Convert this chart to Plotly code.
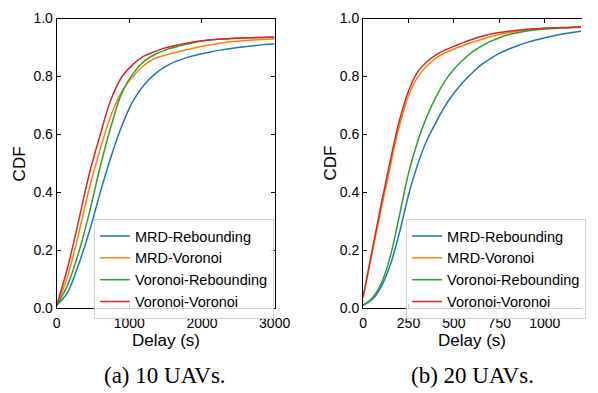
import plotly.graph_objects as go

# ---------------- data ----------------
series_names = ["MRD-Rebounding", "MRD-Voronoi", "Voronoi-Rebounding", "Voronoi-Voronoi"]
series_colors = ["#1f77b4", "#ff7f0e", "#2ca02c", "#d62728"]

# (a) 10 UAVs
delay_10 = [0, 150, 300, 450, 600, 750, 900, 1050, 1200, 1350, 1500, 1650, 1800, 1950, 2100, 2250, 2400, 2550, 2700, 2850, 3000]
cdf10_mrd_rebounding = [0.01, 0.055, 0.15, 0.265, 0.40, 0.525, 0.632, 0.715, 0.77, 0.808, 0.835, 0.853, 0.866, 0.876, 0.884, 0.891, 0.897, 0.902, 0.906, 0.91, 0.913]
cdf10_mrd_voronoi = [0.01, 0.11, 0.255, 0.415, 0.55, 0.667, 0.75, 0.80, 0.838, 0.862, 0.874, 0.884, 0.893, 0.902, 0.909, 0.915, 0.92, 0.923, 0.926, 0.928, 0.929]
cdf10_vor_rebounding = [0.01, 0.08, 0.19, 0.33, 0.49, 0.63, 0.745, 0.81, 0.852, 0.876, 0.892, 0.903, 0.912, 0.921, 0.926, 0.929, 0.931, 0.933, 0.934, 0.935, 0.935]
cdf10_vor_voronoi = [0.01, 0.14, 0.30, 0.465, 0.60, 0.722, 0.80, 0.842, 0.87, 0.886, 0.899, 0.908, 0.916, 0.922, 0.926, 0.929, 0.931, 0.933, 0.934, 0.935, 0.936]

# (b) 20 UAVs
delay_20 = [0, 50, 100, 150, 200, 250, 300, 350, 400, 450, 500, 550, 600, 650, 700, 750, 800, 850, 900, 950, 1000, 1050, 1100, 1150, 1200]
cdf20_mrd_rebounding = [0.01, 0.03, 0.075, 0.15, 0.26, 0.39, 0.495, 0.578, 0.64, 0.697, 0.742, 0.78, 0.812, 0.84, 0.862, 0.88, 0.894, 0.906, 0.917, 0.926, 0.934, 0.941, 0.947, 0.952, 0.956]
cdf20_mrd_voronoi = [0.035, 0.19, 0.345, 0.49, 0.63, 0.733, 0.797, 0.836, 0.863, 0.881, 0.895, 0.907, 0.918, 0.928, 0.937, 0.945, 0.951, 0.956, 0.96, 0.963, 0.965, 0.967, 0.968, 0.969, 0.97]
cdf20_vor_rebounding = [0.01, 0.035, 0.085, 0.18, 0.32, 0.465, 0.575, 0.66, 0.728, 0.783, 0.825, 0.857, 0.884, 0.904, 0.921, 0.934, 0.944, 0.951, 0.957, 0.961, 0.964, 0.966, 0.968, 0.969, 0.97]
cdf20_vor_voronoi = [0.04, 0.2, 0.36, 0.51, 0.648, 0.749, 0.815, 0.85, 0.874, 0.891, 0.904, 0.917, 0.928, 0.938, 0.946, 0.952, 0.956, 0.96, 0.963, 0.965, 0.967, 0.968, 0.969, 0.97, 0.971]

ticks_10 = [0, 1000, 2000, 3000]
ticks_20 = [0, 250, 500, 750, 1000]
ticks_y = [0, 0.2, 0.4, 0.6, 0.8, 1.0]
captions = ["(a) 10 UAVs.", "(b) 20 UAVs."]

# ---------------- figure ----------------
W, H = 598, 393
fig = go.Figure()

left_series = [cdf10_mrd_rebounding, cdf10_mrd_voronoi, cdf10_vor_rebounding, cdf10_vor_voronoi]
right_series = [cdf20_mrd_rebounding, cdf20_mrd_voronoi, cdf20_vor_rebounding, cdf20_vor_voronoi]

for name, col, ys in zip(series_names, series_colors, left_series):
    fig.add_trace(go.Scatter(x=delay_10, y=ys, mode="lines", name=name,
                             line=dict(color=col, width=1.5, shape="spline", smoothing=1.0),
                             xaxis="x", yaxis="y", legend="legend"))
for name, col, ys in zip(series_names, series_colors, right_series):
    fig.add_trace(go.Scatter(x=delay_20, y=ys, mode="lines", name=name,
                             line=dict(color=col, width=1.5, shape="spline", smoothing=1.0),
                             xaxis="x2", yaxis="y2", legend="legend2"))

font_sans = "Liberation Sans, Arial, sans-serif"
tickfont = dict(family=font_sans, size=14, color="black")

ax_common = dict(showline=True, linecolor="black", linewidth=1, ticks="inside",
                 ticklen=4, tickwidth=1, tickcolor="black", showgrid=False,
                 zeroline=False, tickfont=tickfont)

y_dom = [(H - 313) / H, (H - 11) / H]
x1_dom = [54.5 / W, 280 / W]
x2_dom = [371.5 / W, 1.0]
x2_max = 1200 * (598 - 371.5) / (597 - 371.5)

leg_common = dict(xanchor="left", yanchor="top", bgcolor="rgba(255,255,255,0.8)",
                  bordercolor="#d0d0d0", borderwidth=1,
                  font=dict(family=font_sans, size=14.5, color="black"), itemwidth=30)

fig.update_layout(
    width=W, height=H,
    margin=dict(l=0, r=0, t=0, b=0),
    paper_bgcolor="white", plot_bgcolor="white",
    xaxis=dict(domain=x1_dom, range=[0, 3000], tickvals=ticks_10, anchor="y",
               mirror="ticks", ticklabelstandoff=2, **ax_common),
    yaxis=dict(domain=y_dom, range=[0, 1], tickvals=ticks_y, tickformat=".1f",
               anchor="x", mirror="ticks", **ax_common),
    xaxis2=dict(domain=x2_dom, range=[0, x2_max], tickvals=ticks_20, anchor="y2",
                mirror="ticks", ticklabelstandoff=2, **ax_common),
    yaxis2=dict(domain=y_dom, range=[0, 1], tickvals=ticks_y, tickformat=".1f",
                anchor="x2", mirror=False, **ax_common),
    legend=dict(x=93 / W, y=(H - 220) / H, **leg_common),
    legend2=dict(x=416 / W, y=(H - 220) / H, **leg_common),
    showlegend=True,
)

label_font = dict(family=font_sans, size=17, color="black")
cap_font = dict(family="Liberation Serif, Times New Roman, serif", size=23, color="black")

ann = []
for cx, ylab_x in [((54.5 + 280) / 2, 15.5), ((371.5 + 597) / 2, 337.5)]:
    ann.append(dict(text="Delay (s)", x=cx / W, y=(H - 347) / H, xref="paper", yref="paper",
                    xanchor="center", yanchor="middle", showarrow=False, font=label_font))
    ann.append(dict(text="CDF", x=ylab_x / W, y=(H - 162) / H, xref="paper", yref="paper",
                    xanchor="center", yanchor="middle", showarrow=False, font=label_font,
                    textangle=-90))
for cx, txt in zip([167, 485], captions):
    ann.append(dict(text=txt, x=cx / W, y=(H - 383) / H, xref="paper", yref="paper",
                    xanchor="center", yanchor="middle", showarrow=False, font=cap_font))
fig.update_layout(annotations=ann)

fig.write_html("out.html")
